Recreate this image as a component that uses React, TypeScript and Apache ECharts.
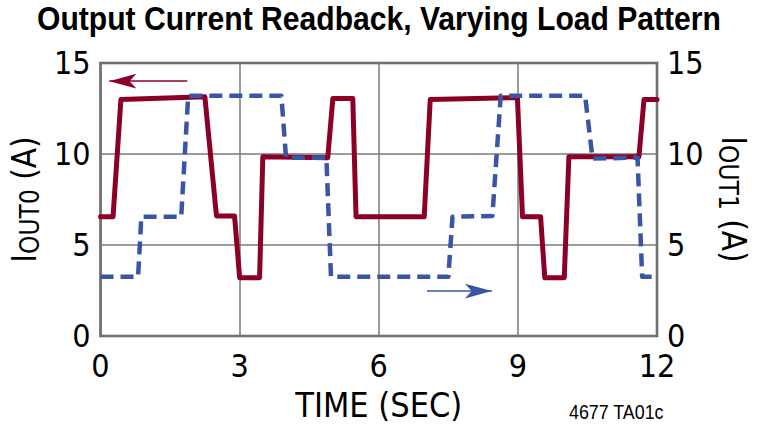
import React, { useEffect, useRef } from "react";
import * as echarts from "echarts";

const TITLE = "Output Current Readback, Varying Load Pattern";
const X_NAME = "TIME (SEC)";
const NOTE = "4677 TA01c";
const Y_LEFT_NAME = "{i|I}{s|OUT0}{i| (A)}";
const Y_RIGHT_NAME = "{i|I}{s|OUT1}{i| (A)}";

// IOUT0 (left axis, solid red)
const TIME_OUT0 = [0, 0.27, 0.44, 2.25, 2.5, 2.89, 3.0, 3.43, 3.5, 4.9, 5.01, 5.44, 5.51, 6.98, 7.11, 8.99, 9.1, 9.49, 9.58, 10.0, 10.1, 11.61, 11.72, 12];
const IOUT0 = [6.55, 6.55, 13.0, 13.15, 6.6, 6.6, 3.2, 3.2, 9.85, 9.8, 13.05, 13.05, 6.55, 6.55, 13.0, 13.1, 6.55, 6.55, 3.2, 3.2, 9.85, 9.85, 13.0, 13.0];

// IOUT1 (right axis, dashed blue)
const TIME_OUT1 = [0, 0.81, 0.88, 1.74, 1.89, 3.9, 4.0, 4.87, 4.97, 7.5, 7.59, 8.45, 8.63, 10.45, 10.61, 11.58, 11.68, 12];
const IOUT1 = [3.25, 3.25, 6.55, 6.55, 13.2, 13.2, 9.8, 9.8, 3.25, 3.25, 6.55, 6.6, 13.2, 13.2, 9.75, 9.8, 3.25, 3.25];

// axis-indicator arrows (data units): tail -> tip
const ARROW_OUT0 = [[1.87, 14.0], [0.19, 14.0]];
const ARROW_OUT1 = [[7.04, 2.47], [8.44, 2.47]];

const X_MIN = 0, X_MAX = 12, X_STEP = 3;
const Y_MIN = 0, Y_MAX = 15, Y_STEP = 5;

const RED = "#8c0028";
const BLUE = "#3a55a5";
const FONT = "'DejaVu Sans Condensed', 'Liberation Sans Narrow', sans-serif";
const WIDE = "'Liberation Sans', Arial, sans-serif";

export default function App() {
  const ref = useRef<HTMLDivElement>(null);
  useEffect(() => {
    if (!ref.current) return;
    const chart = echarts.init(ref.current, undefined, { renderer: "svg" });
    const red = TIME_OUT0.map((t, i) => [t, IOUT0[i]]);
    const blue = TIME_OUT1.map((t, i) => [t, IOUT1[i]]);
    const rich = {
      i: { fontFamily: FONT, fontSize: 33, lineHeight: 37, color: "#000" },
      s: { fontFamily: FONT, fontSize: 26, lineHeight: 23, verticalAlign: "bottom", color: "#000" },
    };
    const yCommon = {
      type: "value",
      min: Y_MIN,
      max: Y_MAX,
      interval: Y_STEP,
      axisLine: { show: false },
      axisTick: { show: false },
      nameLocation: "middle",
      nameGap: 56,
      axisLabel: { fontFamily: FONT, fontSize: 32, color: "#000", margin: 10 },
    };
    chart.setOption({
      animation: false,
      grid: {
        left: 99,
        right: 103,
        top: 63,
        bottom: 93,
        show: true,
        borderColor: "#555",
        borderWidth: 2.5,
        containLabel: false,
      },
      xAxis: {
        type: "value",
        min: X_MIN,
        max: X_MAX,
        interval: X_STEP,
        name: X_NAME,
        nameLocation: "middle",
        nameGap: 52,
        nameTextStyle: { fontFamily: FONT, fontSize: 34, color: "#000" },
        axisLine: { show: false },
        axisTick: { show: false },
        axisLabel: { fontFamily: FONT, fontSize: 32, color: "#000", margin: 14 },
        splitLine: { show: true, lineStyle: { color: "#7a7a7a", width: 1.5 } },
      },
      yAxis: [
        {
          ...yCommon,
          position: "left",
          name: Y_LEFT_NAME,
          nameRotate: 90,
          nameTextStyle: { rich },
          splitLine: { show: true, lineStyle: { color: "#7a7a7a", width: 1.5 } },
        },
        {
          ...yCommon,
          position: "right",
          name: Y_RIGHT_NAME,
          nameRotate: -90,
          nameTextStyle: { rich },
          splitLine: { show: false },
        },
      ],
      graphic: [
        {
          type: "text",
          x: 379,
          y: 2,
          scaleX: 0.912,
          style: { text: TITLE, font: `bold 33px ${WIDE}`, fill: "#000", align: "center", verticalAlign: "top" },
        },
        {
          type: "text",
          x: 569,
          y: 401,
          scaleX: 0.85,
          style: { text: NOTE, font: `21px ${WIDE}`, fill: "#000", align: "left", verticalAlign: "top" },
        },
      ],
      series: [
        {
          type: "line",
          name: "IOUT0",
          yAxisIndex: 0,
          data: red,
          showSymbol: false,
          silent: true,
          lineStyle: { color: RED, width: 5, cap: "round", join: "round" },
          markLine: {
            silent: true,
            symbol: ["none", "arrow"],
            symbolSize: [11, 27],
            label: { show: false },
            lineStyle: { color: RED, width: 1.5, type: "solid" },
            data: [[{ coord: ARROW_OUT0[0] }, { coord: ARROW_OUT0[1] }]],
          },
        },
        {
          type: "line",
          name: "IOUT1",
          yAxisIndex: 1,
          data: blue,
          showSymbol: false,
          silent: true,
          lineStyle: { color: BLUE, width: 4.5, type: [13, 7], join: "round" },
          markLine: {
            silent: true,
            symbol: ["none", "arrow"],
            symbolSize: [11, 27],
            label: { show: false },
            lineStyle: { color: BLUE, width: 1.5, type: "solid" },
            data: [[{ coord: ARROW_OUT1[0] }, { coord: ARROW_OUT1[1] }]],
          },
        },
      ],
    });
    return () => chart.dispose();
  }, []);
  return (
    <div
      ref={ref}
      style={{ position: "fixed", left: 0, top: 0, width: 760, height: 429, background: "#fff" }}
    />
  );
}
